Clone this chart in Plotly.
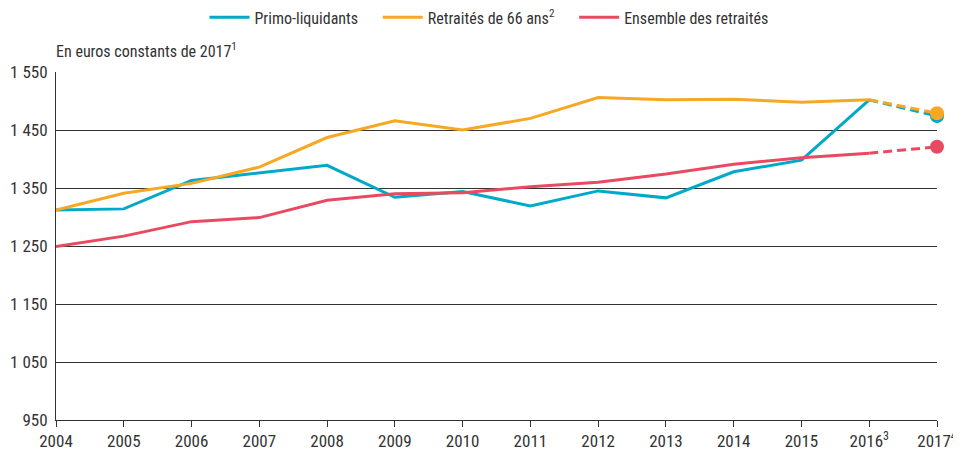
import plotly.graph_objects as go

years = [2004, 2005, 2006, 2007, 2008, 2009, 2010, 2011, 2012, 2013, 2014, 2015, 2016, 2017]
year_labels = ["2004", "2005", "2006", "2007", "2008", "2009", "2010", "2011", "2012",
               "2013", "2014", "2015", "2016<sup>3</sup>", "2017<sup>4</sup>"]

primo = [1312, 1314, 1363, 1376, 1389, 1334, 1344, 1319, 1345, 1333, 1378, 1398, 1502, 1474]
retr66 = [1312, 1341, 1358, 1386, 1437, 1466, 1450, 1470, 1506, 1502, 1503, 1498, 1502, 1479]
ensemble = [1249, 1267, 1292, 1299, 1329, 1340, 1342, 1352, 1360, 1374, 1391, 1402, 1410, 1421]

y_ticks = [950, 1050, 1150, 1250, 1350, 1450, 1550]
y_labels = ["950", "1 050", "1 150", "1 250", "1 350", "1 450", "1 550"]

series = [
    ("Primo-liquidants", primo, "#00A9C8"),
    ("Retraités de 66 ans<sup>2</sup>", retr66, "#F7A823"),
    ("Ensemble des retraités", ensemble, "#E84A62"),
]

FONT = "Roboto Condensed, DejaVu Sans Condensed, Liberation Sans Narrow, Roboto, sans-serif"
PAD = "\u00a0\u00a0\u00a0\u00a0"
fig = go.Figure()
for name, vals, col in series:
    fig.add_trace(go.Scatter(x=years[:-1], y=vals[:-1], mode="lines", name=name + PAD,
                             line=dict(color=col, width=3), cliponaxis=False))
for name, vals, col in series:
    fig.add_trace(go.Scatter(x=years[-2:], y=vals[-2:], mode="lines", showlegend=False,
                             line=dict(color=col, width=3, dash="9px,5px"), cliponaxis=False))
    fig.add_trace(go.Scatter(x=years[-1:], y=vals[-1:], mode="markers", showlegend=False,
                             marker=dict(color=col, size=14), cliponaxis=False))

# page body adds an 8px offset, so the figure is sized/margined to compensate
fig.update_layout(
    width=953, height=442,
    margin=dict(l=48, r=24, t=64, b=30, autoexpand=False),
    paper_bgcolor="white", plot_bgcolor="white",
    font=dict(family=FONT, size=15, color="#333333"),
    showlegend=True,
    legend=dict(orientation="h", x=0.5, xanchor="center", y=1.157, yanchor="middle",
                font=dict(size=16), itemwidth=40, traceorder="normal"),
    xaxis=dict(range=[2004, 2017], tickvals=years, ticktext=year_labels, automargin=False,
               showgrid=False, zeroline=False, showline=True, linecolor="#333333", linewidth=1,
               ticks="outside", ticklen=6, tickcolor="#333333", tickfont=dict(size=17),
               ticklabelstandoff=0),
    yaxis=dict(range=[950, 1550], tickvals=y_ticks, ticktext=y_labels, automargin=False,
               showgrid=True, gridcolor="#333333", gridwidth=1, zeroline=False,
               showline=True, linecolor="#333333", linewidth=1, ticks="", tickfont=dict(size=17),
               ticklabelstandoff=4),
    annotations=[dict(text="En euros constants de 2017<sup>1</sup>", xref="paper", yref="paper",
                      x=0, y=1.0, xanchor="left", yanchor="middle", yshift=22, xshift=-2,
                      showarrow=False, font=dict(size=16))],
)
fig.write_html("out.html")
